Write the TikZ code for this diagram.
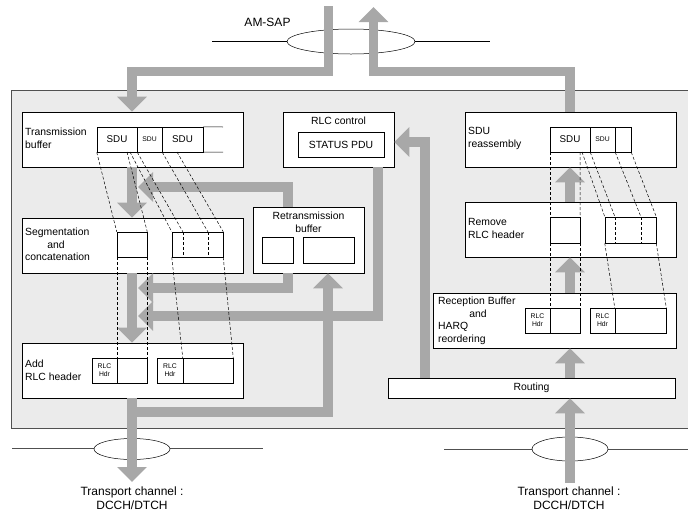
\documentclass[tikz,border=0pt]{standalone}
\usepackage{fontspec}
\setmainfont{Liberation Sans}
\usetikzlibrary{arrows.meta,shapes.geometric}
\definecolor{panelgray}{HTML}{EBEBEB}
\definecolor{flowgray}{HTML}{A8A8A8}
\definecolor{edgegray}{HTML}{505050}
\begin{document}
\begin{tikzpicture}[x=1pt,y=-1pt,line join=miter,
  flow/.style={draw=flowgray,line width=9.5pt,-{Triangle[width=29pt,length=15pt]}},
  box/.style={draw=black,fill=white,line width=0.6pt,inner sep=0pt},
  cell/.style={draw=black,fill=white,line width=0.5pt,inner sep=0pt,font=\fontsize{9.8}{11}\selectfont},
  smallcell/.style={cell,font=\fontsize{6.8}{8}\selectfont,align=center},
  dline/.style={draw=black,line width=0.5pt,dash pattern=on 3pt off 2pt},
  lbl/.style={inner sep=0pt,font=\fontsize{10.4}{12}\selectfont,text height=7.5pt,text depth=2pt},
  chan/.style={inner sep=0pt,font=\fontsize{12}{14}\selectfont}]
\useasboundingbox (0,0) rectangle (688,515);
% panel
\fill[panelgray] (11,90) rectangle (688,428);
\draw[edgegray,line width=0.8pt] (688,90) -- (11,90) -- (11,428) -- (688,428);
% AM-SAP
\draw[black,line width=0.5pt] (212,41) -- (287,41) (415,41) -- (490,41);
\node[draw=black,line width=0.5pt,ellipse,minimum width=128pt,minimum height=25pt,inner sep=0pt] (sap) at (351,41.5) {};
\node[chan] (saplbl) at (267.5,22) {AM-SAP};
% bottom channels
\draw[edgegray,line width=0.5pt] (12,448) -- (94,448) (170,448) -- (263,448);
\node[draw=black,line width=0.5pt,ellipse,minimum width=76pt,minimum height=21pt,inner sep=0pt] (ch1) at (132,449) {};
\draw[edgegray,line width=0.5pt] (444,449) -- (532,449) (608,449) -- (688,449);
\node[draw=black,line width=0.5pt,ellipse,minimum width=76pt,minimum height=24pt,inner sep=0pt] (ch2) at (570,449) {};
\node[chan] (t1a) at (132,492) {Transport channel :};
\node[chan] (t1b) at (132,505) {DCCH/DTCH};
\node[chan] (t2a) at (569,492) {Transport channel :};
\node[chan] (t2b) at (569,505) {DCCH/DTCH};
% boxes
\node[box,minimum width=221pt,minimum height=55pt] (tb) at (132.5,139.5) {};
\node[box,minimum width=221pt,minimum height=55pt] (seg) at (132.5,245.5) {};
\node[box,minimum width=221pt,minimum height=55pt] (add) at (132.5,370.5) {};
\node[box,minimum width=111pt,minimum height=55pt] (rlc) at (338.5,139.5) {};
\node[box,minimum width=111pt,minimum height=66pt] (retx) at (308.5,240) {};
\node[box,minimum width=211pt,minimum height=55pt] (sdur) at (570.5,139.5) {};
\node[box,minimum width=211pt,minimum height=55pt] (rem) at (570.5,229.5) {};
\node[box,minimum width=243pt,minimum height=55pt] (rec) at (554.5,320.5) {};
\node[box,minimum width=287pt,minimum height=20pt,font=\fontsize{10.4}{12}\selectfont] (route) at (531.5,388) {Routing};
% gray flows
\draw[flow] (328.5,6) -- (328.5,71.5) -- (132,71.5) -- (tb.north -| 132,0);
\draw[flow] (sdur.north -| 570,0) -- (570,71.5) -- (373.5,71.5) -- (373.5,7);
\draw[flow] (tb.south -| 132,0) -- (seg.north -| 132,0);
\draw[flow] (retx.north -| 288,0) -- (288,187) -- (138,187);
\draw[flow] (retx.south -| 288,0) -- (288,288) -- (138,288);
\draw[flow] (rlc.south -| 378,0) -- (378,316) -- (138,316);
\draw[flow] (seg.south -| 132,0) -- (add.north -| 132,0);
\draw[flow] (add.south -| 132,0) -- (132,482);
\draw[flow] (132,412) -- (328,412) -- (retx.south -| 328,0);
\draw[flow] (route.north -| 570,0) -- (rec.south -| 570,0);
\draw[flow] (rec.north -| 570,0) -- (rem.south -| 570,0);
\draw[flow] (rem.north -| 570,0) -- (sdur.south -| 570,0);
\draw[flow] (570,483) -- (route.south -| 570,0);
\draw[flow] (route.north -| 425,0) -- (425,142) -- (rlc.east |- 0,142);
% labels
\node[lbl,anchor=west] (tbl1) at (25,133) {Transmission};
\node[lbl,anchor=west] (tbl2) at (25,146) {buffer};
\node[lbl,anchor=west] (sgl1) at (25,233) {Segmentation};
\node[lbl] (sgl2) at (56,246) {and};
\node[lbl,anchor=west] (sgl3) at (25,258) {concatenation};
\node[lbl,anchor=west] (adl1) at (25,365) {Add};
\node[lbl,anchor=west] (adl2) at (25,378) {RLC header};
\node[lbl] (rll) at (338.5,122) {RLC control};
\node[box,minimum width=86pt,minimum height=25pt,font=\fontsize{10.4}{12}\selectfont] (status) at (341,144.5) {STATUS PDU};
\node[lbl] (rtl1) at (308.5,217) {Retransmission};
\node[lbl] (rtl2) at (308.5,230) {buffer};
\node[lbl,anchor=west] (srl1) at (468,132) {SDU};
\node[lbl,anchor=west] (srl2) at (468,145) {reassembly};
\node[lbl,anchor=west] (rml1) at (468,223) {Remove};
\node[lbl,anchor=west] (rml2) at (468,236) {RLC header};
\node[lbl,anchor=west] (rcl1) at (438,302) {Reception Buffer};
\node[lbl] (rcl2) at (478,314.5) {and};
\node[lbl,anchor=west] (rcl3) at (438,327) {HARQ};
\node[lbl,anchor=west] (rcl4) at (438,340) {reordering};
% transmission buffer strip
\node[cell,minimum width=40pt,minimum height=25pt] (s1) at (117,139.5) {SDU};
\node[cell,minimum width=25pt,minimum height=25pt,font=\fontsize{6.8}{8}\selectfont] (s2) at (149.5,139.5) {SDU};
\node[cell,minimum width=41pt,minimum height=25pt] (s3) at (182.5,139.5) {SDU};
\draw[line width=0.5pt] (s3.north east) -- (223,127) (s3.south east) -- (223,152);
% retransmission buffer cells
\node[cell,minimum width=31pt,minimum height=26pt] (rb1) at (277.5,250) {};
\node[cell,minimum width=51pt,minimum height=26pt] (rb2) at (328.5,250) {};
% segmentation cells
\node[cell,minimum width=30pt,minimum height=25pt] (g1) at (132,244.5) {};
\node[cell,minimum width=51pt,minimum height=25pt] (g2) at (197.5,244.5) {};
\draw[dline] (183,232) -- (183,257) (208,232) -- (208,257);
% add RLC header cells
\node[smallcell,minimum width=25pt,minimum height=25pt] (ah1) at (104.5,370.5) {RLC\\Hdr};
\node[cell,minimum width=30pt,minimum height=25pt] (ad1) at (132,370.5) {};
\node[smallcell,minimum width=26pt,minimum height=25pt] (ah2) at (170,370.5) {RLC\\Hdr};
\node[cell,minimum width=50pt,minimum height=25pt] (ad2) at (208,370.5) {};
% left dashed lines
\draw[dline] (s1.south west) -- (g1.north west);
\draw[dline] (127,152) -- (g1.north east);
\draw[dline] (130,152) -- (g2.north west);
\draw[dline] (s1.south east) -- (183,232);
\draw[dline] (s2.south east) -- (208,232);
\draw[dline] (177,152) -- (g2.north east);
\draw[dline] (g1.south west) -- (ad1.north west);
\draw[dline] (g1.south east) -- (ad1.north east);
\draw[dline] (g2.south west) -- (ad2.north west);
\draw[dline] (g2.south east) -- (ad2.north east);
% SDU reassembly strip
\node[cell,minimum width=40pt,minimum height=25pt] (r1) at (570,139.5) {SDU};
\node[cell,minimum width=25pt,minimum height=25pt,font=\fontsize{6.8}{8}\selectfont] (r2) at (602.5,139.5) {SDU};
\node[cell,minimum width=16pt,minimum height=25pt] (r3) at (623,139.5) {};
% remove header cells
\node[cell,minimum width=30pt,minimum height=26pt] (m1) at (565,230) {};
\node[cell,minimum width=51pt,minimum height=26pt] (m2) at (630.5,230) {};
\draw[dline] (615,217) -- (615,243) (641,217) -- (641,243);
% reception cells
\node[smallcell,minimum width=25pt,minimum height=25pt] (rh1) at (537.5,320.5) {RLC\\Hdr};
\node[cell,minimum width=30pt,minimum height=25pt] (rd1) at (565,320.5) {};
\node[smallcell,minimum width=25pt,minimum height=25pt] (rh2) at (602.5,320.5) {RLC\\Hdr};
\node[cell,minimum width=51pt,minimum height=25pt] (rd2) at (640.5,320.5) {};
% right dashed lines
\draw[dline] (r1.south west) -- (m1.north west);
\draw[dline] (580,152) -- (m1.north east);
\draw[dline] (582,152) -- (m2.north west);
\draw[dline] (r1.south east) -- (615,217);
\draw[dline] (r2.south east) -- (641,217);
\draw[dline] (r3.south east) -- (m2.north east);
\draw[dline] (m1.south west) -- (rd1.north west);
\draw[dline] (m1.south east) -- (rd1.north east);
\draw[dline] (m2.south west) -- (rd2.north west);
\draw[dline] (m2.south east) -- (rd2.north east);
\end{tikzpicture}
\end{document}
